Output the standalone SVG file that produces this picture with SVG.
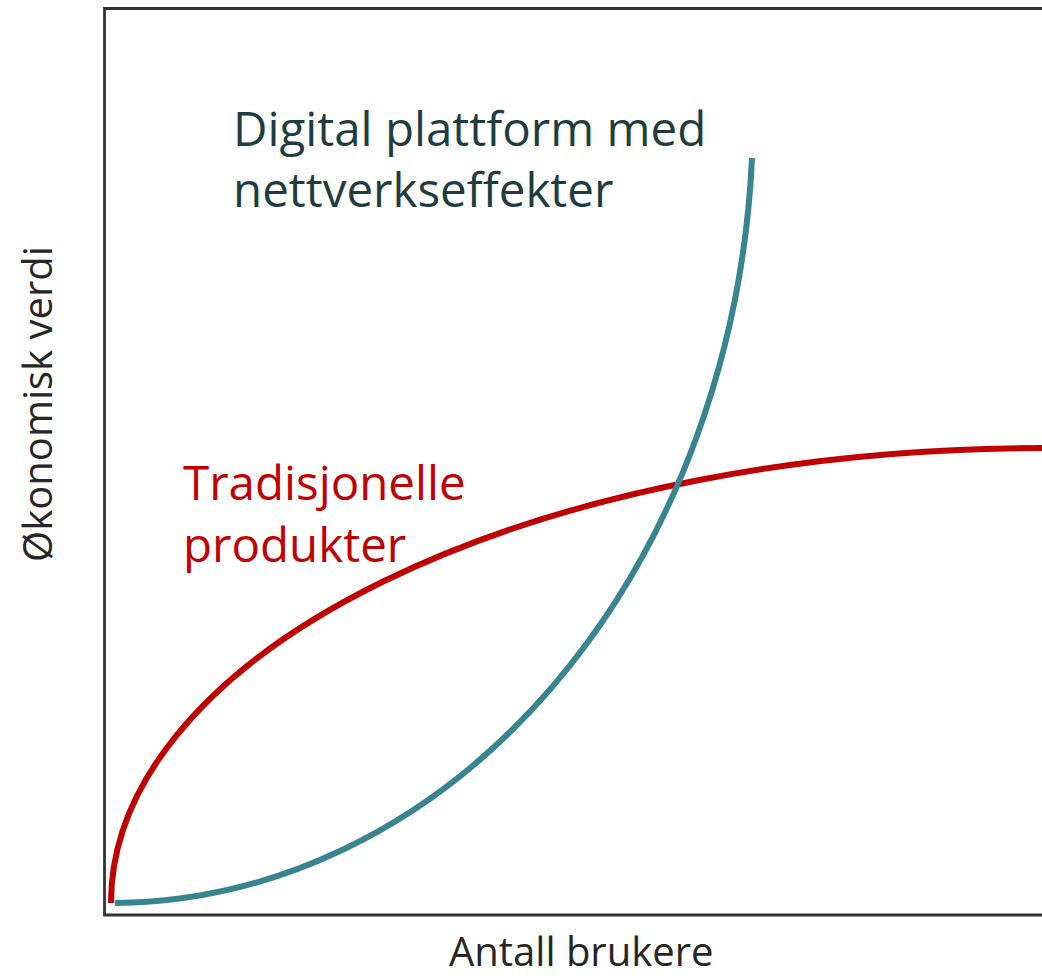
<svg xmlns="http://www.w3.org/2000/svg" width="1042" height="978" viewBox="0 0 1042 978">
<style>
.lbl{font-family:"Open Sans","Liberation Sans",sans-serif;}
.big{font-size:47.5px;}
.ax{font-size:40px;fill:#262626;}
.curve{fill:none;stroke-width:6;stroke-linecap:butt;}
</style>
<rect width="1042" height="978" fill="#ffffff"/>
<g id="axes">
<path d="M1042,8.5 H104.5 V915 H1042" fill="none" stroke="#333333" stroke-width="2.8"/>
</g>
<g id="connectors">
<path id="red-curve" class="curve" stroke="#C00000" d="M111,903 A931,455 0 0 1 1042,448"/>
<path id="teal-curve" class="curve" stroke="#38858F" d="M115,903 A642,790 0 0 0 752,158"/>
</g>
<g id="label-digital">
<text class="lbl big" fill="#1F3D3F" x="233" y="146">Digital plattform med</text>
<text class="lbl big" fill="#1F3D3F" x="233" y="207">nettverkseffekter</text>
</g>
<g id="label-trad">
<text class="lbl big" fill="#C00000" x="183" y="500">Tradisjonelle</text>
<text class="lbl big" fill="#C00000" x="183" y="562">produkter</text>
</g>
<g id="x-label">
<text class="lbl ax" x="449" y="966">Antall brukere</text>
</g>
<g id="y-label">
<text class="lbl ax" transform="translate(52,404) rotate(-90)" text-anchor="middle">Økonomisk verdi</text>
</g>
</svg>
